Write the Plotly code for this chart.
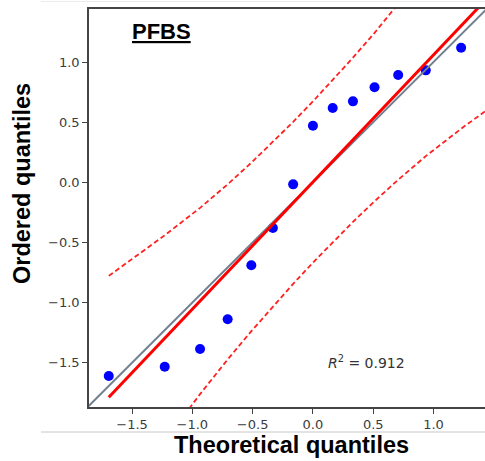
import numpy as np
import plotly.graph_objects as go

# ---- data ----
compound = "PFBS"
theoretical_q = [-1.693, -1.229, -0.936, -0.707, -0.511, -0.332, -0.164, 0.0,
                 0.164, 0.332, 0.511, 0.707, 0.936, 1.229, 1.693]
# last value lies outside the visible (cropped) area; estimated from fit line
ordered_q = [-1.61, -1.533, -1.386, -1.139, -0.690, -0.380, -0.017, 0.470,
             0.618, 0.673, 0.790, 0.892, 0.931, 1.119, 1.30]
r2_value = 0.912
confidence = 0.95
diag_limits = [-1.86, 1.44]
x_view = [-1.857, 1.427]
y_view = [-1.868, 1.441]
tick_vals = [-1.5, -1.0, -0.5, 0.0, 0.5, 1.0]
x_title = "Theoretical quantiles"
y_title = "Ordered quantiles"

# ---- computations (as in pingouin.qqplot) ----
theor = np.array(theoretical_q)
obs = np.array(ordered_q)
slope, intercept = np.polyfit(theor, obs, 1)
fit_val = slope * theor + intercept
n = theor.size
P = (np.arange(1, n + 1) - 0.5) / n
crit = 1.959963984540054
pdf = np.exp(-theor ** 2 / 2) / np.sqrt(2 * np.pi)
se = (slope / pdf) * np.sqrt(P * (1 - P) / n)
upper = fit_val + crit * se
lower = fit_val - crit * se

fig = go.Figure()
fig.add_trace(go.Scatter(x=theor, y=obs, mode="markers",
                         marker=dict(color="#0000ff", size=10, line=dict(width=0))))
fig.add_trace(go.Scatter(x=diag_limits, y=diag_limits, mode="lines",
                         line=dict(color="#708090", width=2)))
fig.add_trace(go.Scatter(x=theor, y=fit_val, mode="lines",
                         line=dict(color="#ff0000", width=3)))
for band in (upper, lower):
    fig.add_trace(go.Scatter(x=theor, y=band, mode="lines",
                             line=dict(color="#ff2020", width=1.8, dash="5px,3px")))

axis_common = dict(
    showgrid=False, zeroline=False, showline=True, linecolor="#444444", linewidth=1.5,
    ticks="outside", ticklen=5, tickwidth=1.2, tickcolor="#444444",
    tickvals=tick_vals, tickformat=".1f",
    tickfont=dict(family="DejaVu Sans", size=13, color="#3c3c3c"),
)
fig.update_xaxes(range=x_view, mirror=True, **axis_common)
fig.update_yaxes(range=y_view, mirror=False, **axis_common)

annotations = [
    dict(text=f"<i>R</i><sup>2</sup> = {r2_value:.3f}", x=0.112, y=-1.49, xref="x", yref="y",
         xanchor="left", yanchor="middle", showarrow=False,
         font=dict(family="DejaVu Sans", size=14, color="#333333")),
    dict(text=f"<b><u>{compound}</u></b>", x=(161 - 89) / 396, y=(407 - 31) / 398,
         xref="paper", yref="paper", xanchor="center", yanchor="middle", showarrow=False,
         font=dict(family="Liberation Sans", size=22, color="#000000")),
    dict(text=f"<b>{x_title}</b>", x=(291 - 89) / 396, y=-(445 - 407) / 398,
         xref="paper", yref="paper", xanchor="center", yanchor="middle", showarrow=False,
         font=dict(family="Liberation Sans", size=23.5, color="#000000")),
    dict(text=f"<b>{y_title}</b>", x=(22 - 89) / 396, y=(407 - 184) / 398, textangle=-90,
         xref="paper", yref="paper", xanchor="center", yanchor="middle", showarrow=False,
         font=dict(family="Liberation Sans", size=23.5, color="#000000")),
]

shapes = [
    dict(type="line", xref="paper", yref="paper", x0=(41 - 89) / 396, x1=1.0,
         y0=-(432 - 407) / 398, y1=-(432 - 407) / 398, line=dict(color="#c8c8c8", width=1)),
    dict(type="line", xref="paper", yref="paper", x0=(41 - 89) / 396, x1=1.0,
         y0=(407 - 1.5) / 398, y1=(407 - 1.5) / 398, line=dict(color="#ececec", width=1)),
]

fig.update_layout(
    width=485, height=461, showlegend=False,
    margin=dict(l=89, r=0, t=9, b=54),
    paper_bgcolor="white", plot_bgcolor="white",
    annotations=annotations, shapes=shapes,
)
fig.write_html("out.html", config={"displayModeBar": False},
               post_script="document.body.style.margin='0';document.body.style.overflow='hidden';")
